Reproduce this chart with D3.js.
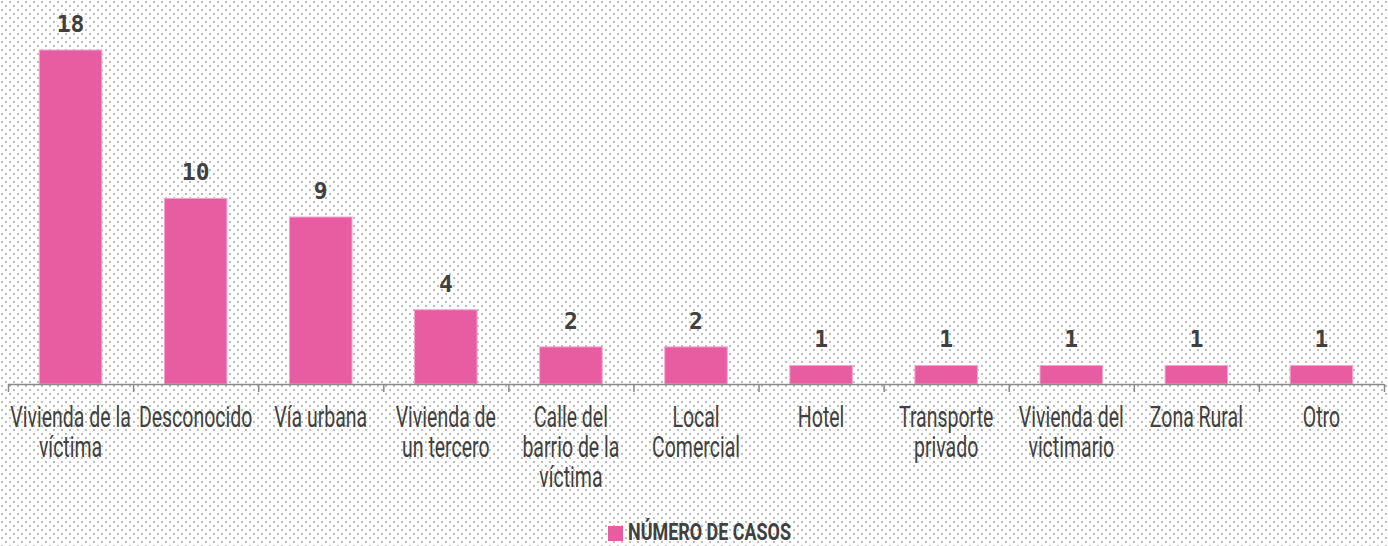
<!DOCTYPE html>
<html>
<head>
<meta charset="utf-8">
<script src="https://cdn.jsdelivr.net/npm/d3@7"></script>
<style>
  html, body { margin: 0; padding: 0; background: #fff; }
  svg { display: block; }
</style>
</head>
<body>
<svg id="chart" width="1388" height="546"></svg>
<script>
// ---- data ----
const categories = [
  "Vivienda de la víctima",
  "Desconocido",
  "Vía urbana",
  "Vivienda de un tercero",
  "Calle del barrio de la víctima",
  "Local Comercial",
  "Hotel",
  "Transporte privado",
  "Vivienda del victimario",
  "Zona Rural",
  "Otro"
];
const categoryLines = [
  ["Vivienda de la", "víctima"],
  ["Desconocido"],
  ["Vía urbana"],
  ["Vivienda de", "un tercero"],
  ["Calle del", "barrio de la", "víctima"],
  ["Local", "Comercial"],
  ["Hotel"],
  ["Transporte", "privado"],
  ["Vivienda del", "victimario"],
  ["Zona Rural"],
  ["Otro"]
];
const values = [18, 10, 9, 4, 2, 2, 1, 1, 1, 1, 1];
const seriesName = "NÚMERO DE CASOS";

// ---- layout ----
const W = 1388, H = 546;
const svg = d3.select("#chart");
const barColor = "#E85DA2";
const textColor = "#404040";

// dotted background
const defs = svg.append("defs");
const pat = defs.append("pattern")
  .attr("id", "dots").attr("patternUnits", "userSpaceOnUse")
  .attr("width", 8).attr("height", 8);
pat.append("rect").attr("x", 1).attr("y", 1).attr("width", 2).attr("height", 2).attr("fill", "#bdbdbd");
pat.append("rect").attr("x", 5).attr("y", 5).attr("width", 2).attr("height", 2).attr("fill", "#bdbdbd");
svg.append("rect").attr("width", W).attr("height", H).attr("fill", "#fff");
svg.append("rect").attr("width", W).attr("height", H).attr("fill", "url(#dots)");

const x = d3.scaleBand().domain(categories).range([8, 1384]).paddingInner(0.5).paddingOuter(0.25);
const xBound = d3.scaleBand().domain(categories).range([8, 1384]).padding(0);
const y = d3.scaleLinear().domain([0, 18]).range([384, 50]);

// bars
svg.append("g").selectAll("rect").data(values).join("rect")
  .attr("x", (d, i) => x(categories[i]))
  .attr("width", x.bandwidth())
  .attr("y", d => y(d))
  .attr("height", d => y(0) - y(d))
  .attr("fill", barColor)
  .attr("stroke", "#f3a6cb").attr("stroke-width", 1);

// axis line with boundary ticks
const axisColor = "#8a8a8a";
const ax = svg.append("g");
ax.append("line").attr("x1", 8).attr("x2", 1384).attr("y1", y(0) + 0.5).attr("y2", y(0) + 0.5)
  .attr("stroke", axisColor).attr("stroke-width", 1.5);
const bounds = categories.map(c => xBound(c)).concat([xBound.range()[1]]);
ax.selectAll("line.tick").data(bounds).join("line").attr("class", "tick")
  .attr("x1", d => d + 0.5).attr("x2", d => d + 0.5)
  .attr("y1", y(0)).attr("y2", y(0) + 8)
  .attr("stroke", axisColor).attr("stroke-width", 1.5);

// value labels
svg.append("g").selectAll("text").data(values).join("text")
  .attr("x", (d, i) => x(categories[i]) + x.bandwidth() / 2)
  .attr("y", d => y(d) - 18)
  .attr("text-anchor", "middle")
  .attr("font-family", "'DejaVu Sans Mono', monospace")
  .attr("font-weight", "bold")
  .attr("font-size", 23)
  .style("font-variant-numeric", "oldstyle-nums")
  .attr("fill", textColor)
  .text(d => d);

// category labels (condensed)
const sx = 0.65;
const lab = svg.append("g").selectAll("text").data(categoryLines).join("text")
  .attr("transform", (d, i) => `translate(${xBound(categories[i]) + xBound.bandwidth() / 2},427) scale(${sx},1)`)
  .attr("text-anchor", "middle")
  .attr("font-family", "Roboto, 'Liberation Sans', sans-serif")
  .attr("font-weight", 400)
  .attr("font-size", 30)
  .attr("fill", textColor);
lab.selectAll("tspan").data(d => d).join("tspan")
  .attr("x", 0)
  .attr("dy", (d, j) => j === 0 ? 0 : 30)
  .text(d => d);

// legend
const lg = svg.append("g");
lg.append("rect").attr("x", 608).attr("y", 526).attr("width", 15).attr("height", 15).attr("fill", barColor);
lg.append("text")
  .attr("transform", "translate(628,540) scale(0.78,1)")
  .attr("font-family", "Roboto, 'Liberation Sans', sans-serif")
  .attr("font-weight", 700)
  .attr("font-size", 23)
  .attr("fill", textColor)
  .text(seriesName);
</script>
</body>
</html>
